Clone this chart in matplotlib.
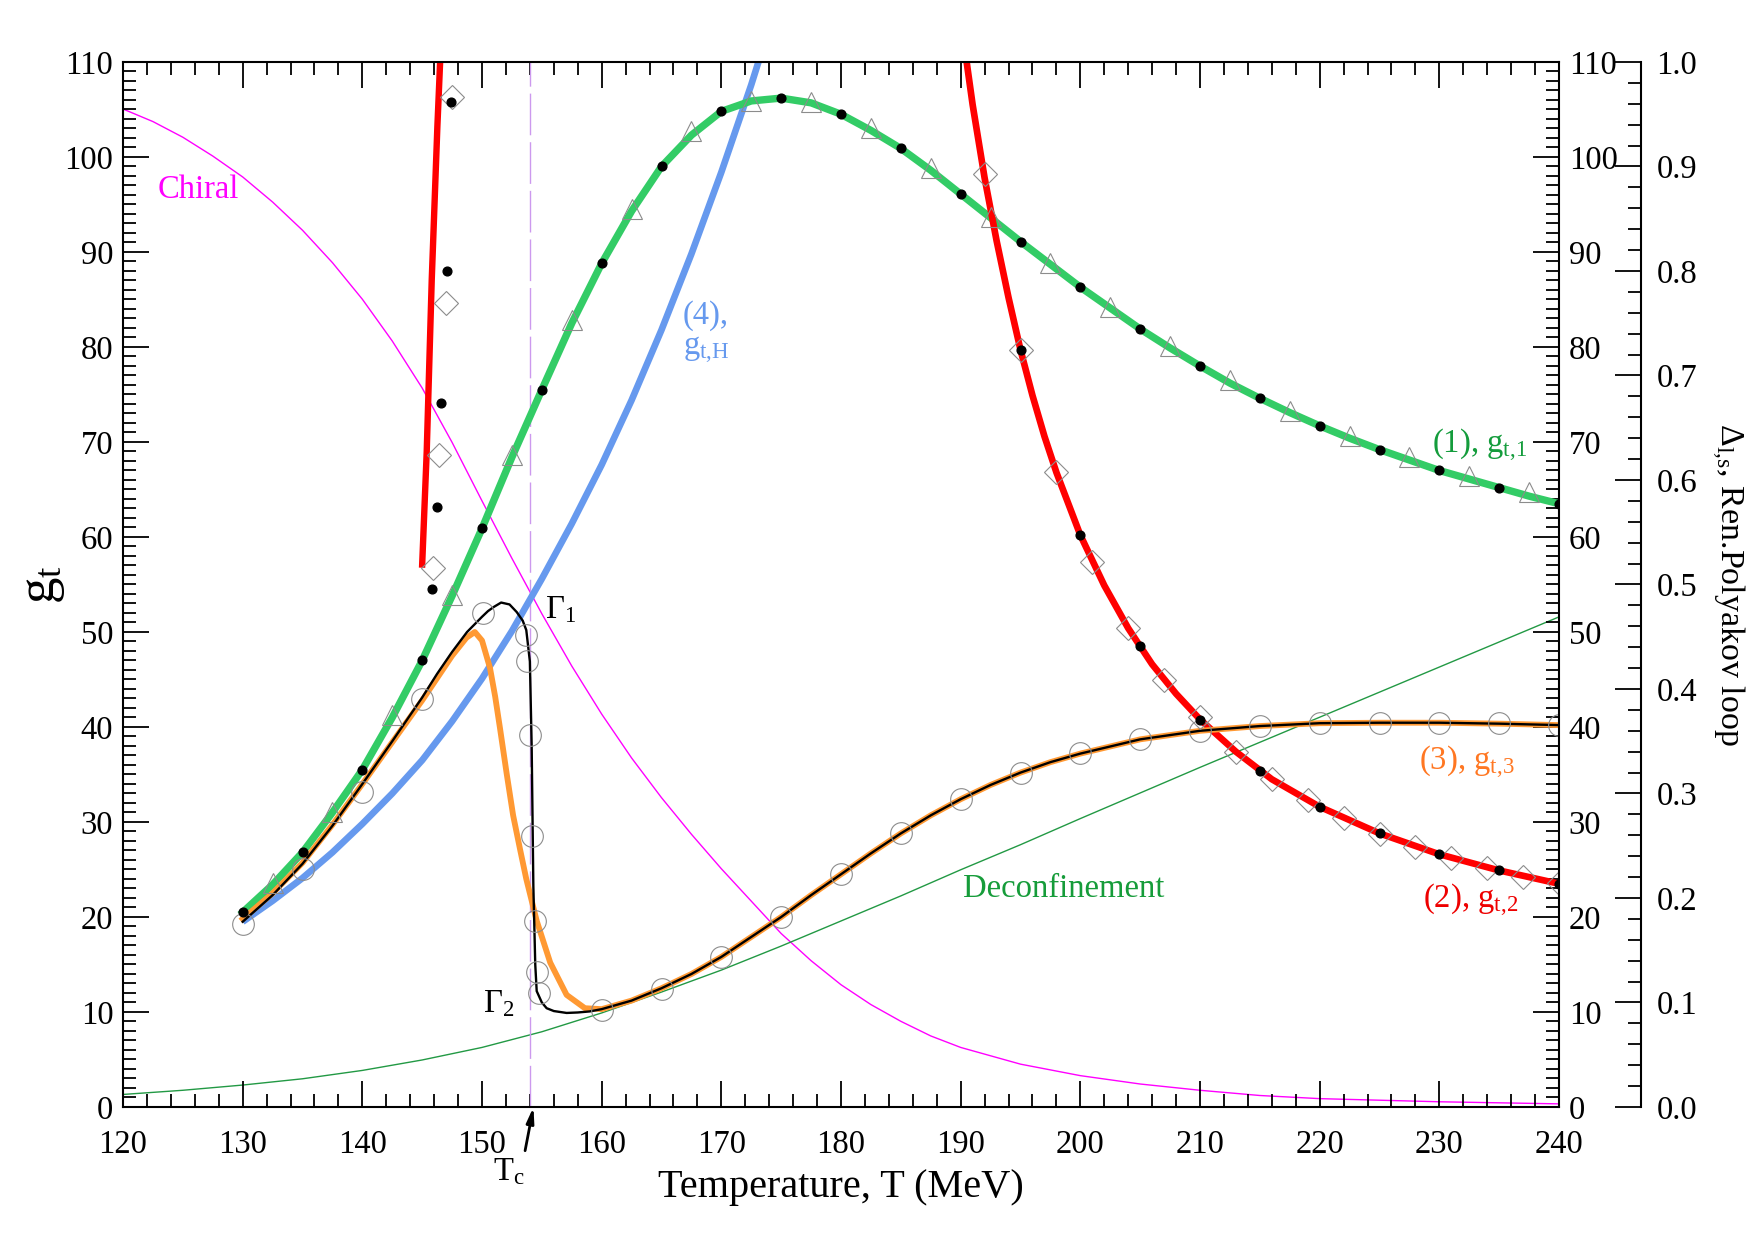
import matplotlib
matplotlib.use("Agg")
import matplotlib.pyplot as plt
from matplotlib.ticker import MultipleLocator, FormatStrFormatter

plt.rcParams['font.family'] = ['Liberation Serif', 'DejaVu Serif']
plt.rcParams['mathtext.fontset'] = 'custom'
plt.rcParams['mathtext.rm'] = 'Liberation Serif'
plt.rcParams['mathtext.it'] = 'Liberation Serif:italic'
plt.rcParams['mathtext.bf'] = 'Liberation Serif:bold'

# ---- data ----
# (1) g_t,1 : thick green curve, dots every 5 MeV, triangles in between
g1_T = [130, 132.5, 135, 137.5, 140, 142.5, 145, 147.5, 150, 152.5, 155, 157.5,
        160, 162.5, 165, 167.5, 170, 172.5, 175, 177.5, 180, 182.5, 185, 187.5,
        190, 192.5, 195, 197.5, 200, 202.5, 205, 207.5, 210, 212.5, 215, 217.5,
        220, 222.5, 225, 227.5, 230, 232.5, 235, 237.5, 240]
g1_val = [20.5, 23.4, 26.8, 31.0, 35.5, 41.0, 47.0, 53.8, 60.9, 68.4, 75.5, 82.5,
          88.8, 94.3, 99.0, 102.3, 104.8, 105.9, 106.2, 105.7, 104.5, 102.8, 100.9, 98.6,
          96.1, 93.6, 91.1, 88.7, 86.3, 84.1, 81.9, 79.9, 78.0, 76.2, 74.6, 73.1,
          71.7, 70.4, 69.2, 68.1, 67.0, 66.1, 65.2, 64.3, 63.5]
g1_dot_T = [130, 135, 140, 145, 150, 155, 160, 165, 170, 175, 180, 185, 190, 195,
            200, 205, 210, 215, 220, 225, 230, 235, 240]
g1_dot = [20.5, 26.8, 35.5, 47.0, 60.9, 75.5, 88.8, 99.0, 104.8, 106.2, 104.5, 100.9,
          96.1, 91.1, 86.3, 81.9, 78.0, 74.6, 71.7, 69.2, 67.0, 65.2, 63.5]
g1_tri_T = [132.5, 137.5, 142.5, 147.5, 152.5, 157.5, 162.5, 167.5, 172.5, 177.5,
            182.5, 187.5, 192.5, 197.5, 202.5, 207.5, 212.5, 217.5, 222.5, 227.5,
            232.5, 237.5]
g1_tri = [23.6, 31.1, 41.3, 53.9, 68.6, 82.8, 94.5, 102.7, 105.9, 105.8,
          103.0, 98.8, 93.7, 88.8, 84.2, 80.1, 76.5, 73.3, 70.6, 68.4,
          66.4, 64.7]

# (2) g_t,2 : red curve, two branches
g2a_T = [145.0, 145.38, 145.8, 146.27, 146.5]
g2a_val = [57.1, 69.0, 87.1, 103.2, 110.0]
g2b_T = [190.5, 191, 192, 193, 194, 195, 196, 197, 198, 200, 202, 204, 206, 208,
         210, 213, 216, 220, 225, 230, 235, 240]
g2b_val = [110.0, 105.5, 97.8, 91.2, 85.2, 79.7, 74.9, 70.6, 66.8, 60.2, 54.9, 50.4,
           46.6, 43.5, 40.8, 37.4, 34.5, 31.6, 28.8, 26.6, 24.9, 23.5]
g2_dot_T = [145.85, 146.2, 146.6, 147.05, 147.4, 195, 200, 205, 210, 215, 220,
            225, 230, 235, 240]
g2_dot = [54.5, 63.2, 74.1, 88.0, 105.8, 79.7, 60.2, 48.5, 40.7, 35.4, 31.6,
          28.8, 26.6, 24.9, 23.5]
g2_dia_T = [145.93, 146.43, 146.97, 147.47, 192, 195, 198, 201, 204, 207, 210,
            213, 216, 219, 222, 225, 228, 231, 234, 237, 240]
g2_dia = [56.7, 68.6, 84.6, 106.3, 98.2, 79.7, 66.8, 57.4, 50.4, 44.9, 41.0,
          37.4, 34.5, 32.3, 30.4, 28.7, 27.4, 26.2, 25.2, 24.2, 23.6]

# (3) g_t,3 : orange curve
g3_T = [130, 132.5, 135, 137.5, 140, 142.5, 145, 147.5, 148.7, 149.4, 150.0, 150.67,
        151.1, 151.5, 152.06, 152.6, 153.2, 153.7, 154.57, 155.7, 157.07, 158.6, 160,
        162.5, 165, 167.5, 170, 172.5, 175, 177.5, 180, 182.5, 185, 187.5, 190,
        192.5, 195, 197.5, 200, 205, 210, 215, 220, 225, 230, 235, 240]
g3_val = [19.8, 22.5, 25.7, 29.7, 34.0, 38.4, 42.8, 47.5, 49.4, 50.0, 49.1, 46.2,
          43.2, 39.9, 35.1, 30.7, 27.0, 24.0, 19.6, 15.2, 11.8, 10.4, 10.3,
          11.2, 12.5, 14.0, 15.8, 17.9, 20.0, 22.3, 24.5, 26.7, 28.8, 30.7, 32.4,
          33.9, 35.2, 36.3, 37.2, 38.7, 39.6, 40.1, 40.4, 40.45, 40.45, 40.35, 40.2]

# Gamma : thin black curve
gam_T = [130, 132.5, 135, 137.5, 140, 142.5, 145, 146.25, 147.5, 148.75, 150, 150.5,
         151, 151.6, 152.3, 152.9, 153.4, 153.7, 154.0, 154.15, 154.29, 154.45, 154.57,
         155.0, 155.4, 156, 157.07, 158, 159, 160, 162.5, 165, 167.5, 170, 172.5, 175,
         177.5, 180, 182.5, 185, 187.5, 190, 192.5, 195, 197.5, 200, 205, 210, 215,
         220, 225, 230, 235, 240]
gam_val = [19.5, 22.3, 25.6, 29.6, 34.0, 38.5, 43.1, 45.6, 47.9, 50.0, 51.6, 52.2,
           52.65, 53.1, 52.9, 52.1, 51.2, 50.2, 46.9, 38.0, 23.3, 15.0, 12.2,
           11.0, 10.4, 10.1, 9.9, 9.95, 10.06, 10.3, 11.2, 12.5, 14.0, 15.8, 17.9, 20.0,
           22.3, 24.5, 26.7, 28.8, 30.7, 32.4, 33.9, 35.2, 36.3, 37.2, 38.7, 39.6, 40.1,
           40.4, 40.45, 40.45, 40.35, 40.2]
gam_circ_T = [130, 135, 140, 145, 150.06, 153.7, 153.8, 154.0, 154.2, 154.4, 154.6,
              154.8, 160, 165, 170, 175, 180, 185, 190, 195, 200, 205, 210, 215,
              220, 225, 230, 235, 240]
gam_circ = [19.3, 25.1, 33.2, 42.9, 52.0, 49.7, 46.9, 39.2, 28.5, 19.6, 14.2,
            12.0, 10.2, 12.4, 15.8, 20.0, 24.5, 28.8, 32.4, 35.2, 37.3, 38.7, 39.6, 40.1,
            40.45, 40.45, 40.45, 40.4, 40.2]

# (4) g_t,H : blue curve
g4_T = [130, 132.5, 135, 137.5, 140, 142.5, 145, 147.5, 150, 152.5, 155, 157.5,
        160, 162.5, 165, 167.5, 170, 172.5, 173.1]
g4_val = [19.5, 21.7, 24.1, 26.8, 29.8, 33.0, 36.5, 40.6, 45.1, 50.1, 55.6, 61.4,
          67.6, 74.4, 81.8, 89.8, 98.4, 107.6, 110.0]

# right axis (0..1): chiral and deconfinement order parameters
chiral_T = [120, 122.5, 125, 127.5, 130, 132.5, 135, 137.5, 140, 142.5, 145, 147.5,
            150, 152.5, 155, 157.5, 160, 162.5, 165, 167.5, 170, 172.5, 175, 177.5,
            180, 182.5, 185, 187.5, 190, 195, 200, 205, 210, 215, 220, 230, 240]
chiral_val = [0.955, 0.943, 0.928, 0.910, 0.890, 0.866, 0.839, 0.808, 0.773, 0.733,
              0.688, 0.636, 0.580, 0.525, 0.472, 0.422, 0.376, 0.334, 0.296, 0.261,
              0.228, 0.197, 0.166, 0.140, 0.117, 0.098, 0.082, 0.068, 0.057, 0.041,
              0.030, 0.022, 0.016, 0.011, 0.008, 0.005, 0.003]
deconf_T = [120, 125, 130, 135, 140, 145, 150, 155, 160, 165, 170, 175, 180, 185,
            190, 195, 200, 210, 220, 230, 240]
deconf_val = [0.012, 0.016, 0.021, 0.027, 0.035, 0.045, 0.057, 0.072, 0.090, 0.110,
              0.131, 0.154, 0.178, 0.202, 0.227, 0.251, 0.276, 0.325, 0.373, 0.421,
              0.469]

T_c = 154

# ---- figure ----
fig = plt.figure(figsize=(17.55, 12.4), dpi=100, facecolor='white')
ax = fig.add_axes([0.07009, 0.10726, 0.81823, 0.84274])
ax2 = ax.twinx()
ax.set_zorder(2)
ax2.set_zorder(1)
ax.patch.set_visible(False)

gray = '#8c8c8c'

# thin lines on the right scale
ax2.plot(chiral_T, chiral_val, color='#ff00ff', lw=1.0)
ax2.plot(deconf_T, deconf_val, color='#229944', lw=1.0)

# T_c marker line
ax.axvline(T_c, color='#cc99ee', lw=1.0, dashes=(30, 5))

# thick curves
ax.plot(g4_T, g4_val, color='#6699ee', lw=4.8, solid_capstyle='butt')
ax.plot(g1_T, g1_val, color='#33cc66', lw=5.3)
ax.plot(g2a_T, g2a_val, color='#ff0000', lw=4.6)
ax.plot(g2b_T, g2b_val, color='#ff0000', lw=4.8)
ax.plot(g3_T, g3_val, color='#ff9933', lw=4.2)
ax.plot(gam_T, gam_val, color='black', lw=1.7)

# open gray markers
ax.plot(g1_tri_T, g1_tri, ls='none', marker='^', ms=15, mfc='none', mec=gray, mew=0.8)
ax.plot(g2_dia_T, g2_dia, ls='none', marker='D', ms=12.7, mfc='none', mec=gray, mew=0.8)
ax.plot(gam_circ_T, gam_circ, ls='none', marker='o', ms=15.6, mfc='none', mec=gray, mew=0.8)

# black dots
ax.plot(g1_dot_T, g1_dot, ls='none', marker='o', ms=6.3, color='black')
ax.plot(g2_dot_T, g2_dot, ls='none', marker='o', ms=6.3, color='black')

# axes ranges and ticks
ax.set_xlim(120, 240)
ax.set_ylim(0, 110)
ax2.set_ylim(0, 1)
ax.xaxis.set_major_locator(MultipleLocator(10))
ax.xaxis.set_minor_locator(MultipleLocator(2))
ax.yaxis.set_major_locator(MultipleLocator(10))
ax.yaxis.set_minor_locator(MultipleLocator(1))
ax.tick_params(which='both', direction='in', top=True, right=True,
               labelright=True, width=1.3, labelsize=23.5)
ax.tick_params(which='major', length=19)
ax.tick_params(which='minor', length=9.5)
ax.tick_params(axis='x', pad=16)
ax.tick_params(axis='y', pad=7)
for s in ax.spines.values():
    s.set_linewidth(1.5)

ax2.spines['right'].set_position(('axes', 1.0571))
ax2.spines['right'].set_linewidth(1.5)
for s in ['left', 'top', 'bottom']:
    ax2.spines[s].set_visible(False)
ax2.yaxis.set_major_locator(MultipleLocator(0.1))
ax2.yaxis.set_minor_locator(MultipleLocator(0.02))
ax2.yaxis.set_major_formatter(FormatStrFormatter('%.1f'))
ax2.tick_params(which='both', direction='in', width=1.3, labelsize=23.5, pad=11)
ax2.tick_params(which='major', length=19)
ax2.tick_params(which='minor', length=9.5)

# axis labels
ax.set_xlabel('Temperature, T (MeV)', fontsize=29)
ax.xaxis.set_label_coords(0.5, -0.0858)
ax.xaxis.label.set_va('baseline')
ax.set_ylabel(r'$\mathrm{g_t}$', fontsize=38)
ax.yaxis.set_label_coords(-0.0557, 0.5)
ax.yaxis.label.set_va('center')
ax2.set_ylabel(r'$\mathrm{\Delta_{l{,}s}}$, Ren.Polyakov loop', fontsize=24.5, rotation=270)
ax2.yaxis.set_label_coords(1.1177, 0.5)
ax2.yaxis.label.set_va('center')

# curve annotations
fs = 23.5
ax.text(122.9, 95.7, 'Chiral', color='#ff00ff', fontsize=fs)
ax.text(190.2, 22.07, 'Deconfinement', color='#169c3a', fontsize=fs)
ax.text(166.8, 82.4, '(4),', color='#6699ee', fontsize=fs)
ax.text(166.8, 79.16, r'$\mathrm{g_{t{,}H}}$', color='#6699ee', fontsize=fs)
ax.text(229.36, 68.8, r'(1), $\mathrm{g_{t{,}1}}$', color='#149c3c', fontsize=fs)
ax.text(228.3, 35.5, r'(3), $\mathrm{g_{t{,}3}}$', color='#ff7722', fontsize=fs)
ax.text(228.6, 20.9, r'(2), $\mathrm{g_{t{,}2}}$', color='#ee0000', fontsize=fs)
ax.text(155.26, 51.5, r'$\mathrm{\Gamma_1}$', color='black', fontsize=fs)
ax.text(150.1, 10.0, r'$\mathrm{\Gamma_2}$', color='black', fontsize=fs)

# T_c arrow below the axis
ax.text(150.9, -7.68, r'$\mathrm{T_c}$', fontsize=fs, clip_on=False)
ax.annotate('', xy=(T_c + 0.3, 0), xytext=(153.6, -4.6), annotation_clip=False,
            arrowprops=dict(arrowstyle='-|>,head_width=0.22,head_length=0.9',
                            color='black', lw=2, shrinkA=0, shrinkB=0))

fig.savefig('out.png', dpi=100, facecolor='white')
